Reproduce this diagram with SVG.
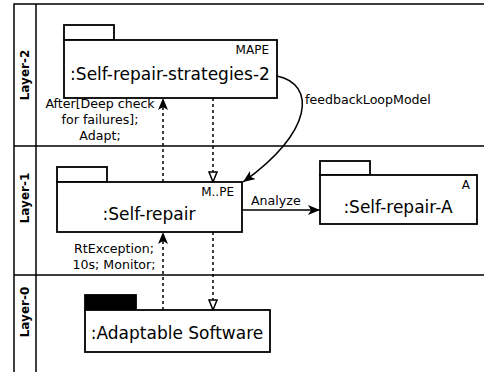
<svg xmlns="http://www.w3.org/2000/svg" width="484" height="372" viewBox="0 0 484 372">
  <style>
    .frame { fill: none; stroke: #000; stroke-width: 1.5; }
    .box { fill: #fff; stroke: #000; stroke-width: 1.8; }
    .tab { fill: #fff; stroke: #000; stroke-width: 1.8; }
    .tabfill { fill: #000; stroke: #000; stroke-width: 1.8; }
    .name { font-family: "DejaVu Sans", sans-serif; font-size: 17px; fill: #000; text-anchor: middle; }
    .stereo { font-family: "DejaVu Sans", sans-serif; font-size: 12px; fill: #000; text-anchor: end; }
    .lbl { font-family: "DejaVu Sans", sans-serif; font-size: 12.6px; fill: #000; }
    .lane { font-family: "DejaVu Sans", sans-serif; font-size: 12px; font-weight: bold; fill: #000; text-anchor: middle; }
    .dash { fill: none; stroke: #000; stroke-width: 1.5; stroke-dasharray: 3 3; }
    .solid { fill: none; stroke: #000; stroke-width: 1.5; }
  </style>
  <defs>
    <marker id="filled" viewBox="0 0 12 10" refX="12" refY="5" markerWidth="12" markerHeight="10" markerUnits="userSpaceOnUse" orient="auto">
      <path d="M0,0 L12,5 L0,10 L3,5 Z" fill="#000"/>
    </marker>
    <marker id="open" viewBox="0 0 12 10" refX="11" refY="5" markerWidth="12" markerHeight="10" markerUnits="userSpaceOnUse" orient="auto">
      <path d="M1,1 L11,5 L1,9 Z" fill="#fff" stroke="#000" stroke-width="1.5"/>
    </marker>
  </defs>

  <!-- swimlane frame -->
  <g id="lanes">
    <path class="frame" d="M14,372 V4 H484 M36,4 V372 M14,146 H484 M14,275 H484"/>
    <text class="lane" transform="translate(29,75) rotate(-90)">Layer-2</text>
    <text class="lane" transform="translate(29,198) rotate(-90)">Layer-1</text>
    <text class="lane" transform="translate(29,312) rotate(-90)">Layer-0</text>
  </g>

  <!-- connectors -->
  <g id="connectors">
    <path class="dash" d="M163,182 V98" marker-end="url(#filled)"/>
    <path class="dash" d="M213,98 V182" marker-end="url(#open)"/>
    <path class="dash" d="M163,310 V232" marker-end="url(#filled)"/>
    <path class="dash" d="M213,232 V310" marker-end="url(#open)"/>
    <path class="solid" d="M277,76 C316,84 314,132 243,182" marker-end="url(#filled)"/>
    <path class="solid" d="M242,210 H320" marker-end="url(#filled)"/>
    <text class="lbl" x="100" y="108" text-anchor="middle">After[Deep check</text>
    <text class="lbl" x="100" y="124" text-anchor="middle">for failures];</text>
    <text class="lbl" x="100" y="140" text-anchor="middle">Adapt;</text>
    <text class="lbl" x="114" y="253" text-anchor="middle">RtException;</text>
    <text class="lbl" x="114" y="269" text-anchor="middle">10s; Monitor;</text>
    <text class="lbl" x="305" y="104">feedbackLoopModel</text>
    <text class="lbl" x="251" y="205">Analyze</text>
  </g>

  <g id="strategies">
    <rect class="tab" x="64" y="25" width="50" height="15"/>
    <rect class="box" x="64" y="40" width="213" height="58"/>
    <text class="stereo" x="269" y="54">MAPE</text>
    <text class="name" x="170" y="80">:Self-repair-strategies-2</text>
  </g>

  <g id="self-repair">
    <rect class="tab" x="57" y="167" width="50" height="15"/>
    <rect class="box" x="57" y="182" width="185" height="50"/>
    <text class="stereo" x="234" y="196">M..PE</text>
    <text class="name" x="149" y="220">:Self-repair</text>
  </g>

  <g id="self-repair-a">
    <rect class="tab" x="320" y="161" width="50" height="14"/>
    <rect class="box" x="320" y="175" width="157" height="49"/>
    <text class="stereo" x="470" y="189">A</text>
    <text class="name" x="398" y="213">:Self-repair-A</text>
  </g>

  <g id="adaptable-software">
    <rect class="tabfill" x="85" y="295" width="51" height="15"/>
    <rect class="box" x="85" y="310" width="185" height="42"/>
    <text class="name" x="177" y="339">:Adaptable Software</text>
  </g>
</svg>
